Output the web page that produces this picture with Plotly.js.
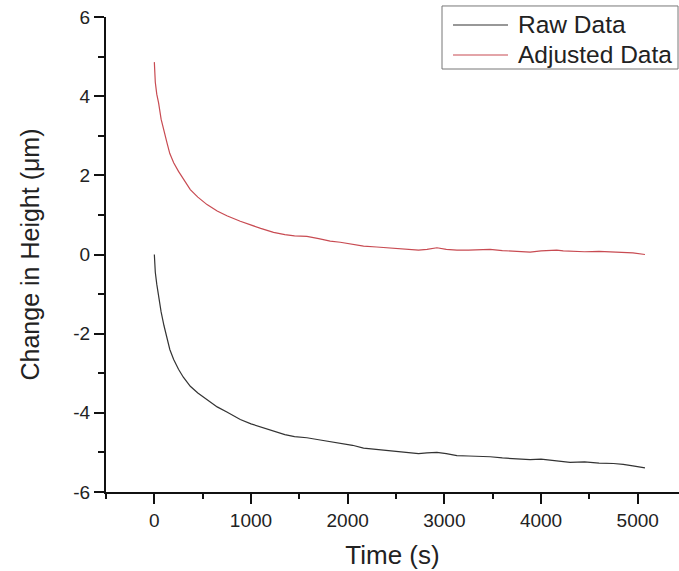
<!DOCTYPE html>
<html>
<head>
<meta charset="utf-8">
<script src="https://cdn.plot.ly/plotly-3.0.1.min.js"></script>
<style>html,body{margin:0;padding:0;background:#fff;}#chart{width:679px;height:571px;}</style>
</head>
<body>
<div id="chart"></div>
<script>
// Time points (s)
const timeS = [0, 10, 25, 44, 70, 100, 131, 160, 200, 250, 300, 372, 450, 545, 650, 750, 889, 1000, 1100, 1233, 1350, 1450, 1578, 1700, 1819, 1923, 2050, 2164, 2300, 2450, 2600, 2733, 2820, 2923, 3020, 3130, 3250, 3380, 3473, 3600, 3750, 3887, 4000, 4100, 4162, 4230, 4300, 4450, 4600, 4749, 4850, 4950, 5075];
// Raw Data (µm)
const rawData = [0, -0.45, -0.75, -1.05, -1.45, -1.8, -2.15, -2.4, -2.65, -2.9, -3.1, -3.33, -3.5, -3.67, -3.85, -3.98, -4.17, -4.28, -4.36, -4.47, -4.55, -4.6, -4.63, -4.68, -4.73, -4.76, -4.82, -4.89, -4.92, -4.96, -4.99, -5.03, -5.01, -5.0, -5.03, -5.08, -5.09, -5.1, -5.11, -5.14, -5.17, -5.18, -5.17, -5.2, -5.2, -5.23, -5.25, -5.24, -5.27, -5.28, -5.3, -5.34, -5.39];
// Adjusted Data (µm)
const adjustedData = [4.86, 4.35, 4.05, 3.83, 3.42, 3.1, 2.82, 2.55, 2.32, 2.1, 1.92, 1.64, 1.45, 1.26, 1.1, 0.98, 0.84, 0.74, 0.66, 0.56, 0.5, 0.47, 0.46, 0.4, 0.34, 0.31, 0.26, 0.21, 0.19, 0.16, 0.14, 0.11, 0.13, 0.17, 0.13, 0.11, 0.11, 0.12, 0.13, 0.1, 0.07, 0.06, 0.09, 0.1, 0.11, 0.09, 0.08, 0.07, 0.08, 0.06, 0.05, 0.04, 0.0];
const seriesNames = ["Raw Data", "Adjusted Data"];
const seriesColors = ["#333333", "#c84b52"];
const xTickVals = [0, 1000, 2000, 3000, 4000, 5000];
const yTickVals = [-6, -4, -2, 0, 2, 4, 6];

const FONT = "Liberation Sans, Arial, sans-serif";

const traces = [
  {x: timeS, y: rawData, name: seriesNames[0], type: "scatter", mode: "lines",
   line: {color: seriesColors[0], width: 1.2}, showlegend: false},
  {x: timeS, y: adjustedData, name: seriesNames[1], type: "scatter", mode: "lines",
   line: {color: seriesColors[1], width: 1.2}, showlegend: false}
];

// Legend drawn in paper coordinates (box, sample lines, labels)
const legBox = {x0: 0.5864, x1: 0.9983, y0: 0.8905, y1: 1.0232};
const legLineX = [0.6056, 0.7016];
const legRowY = [0.9832, 0.92];
const legTextX = 0.7155;

const shapes = [
  {type: "rect", xref: "paper", yref: "paper", x0: legBox.x0, x1: legBox.x1, y0: legBox.y0, y1: legBox.y1,
   line: {color: "#777", width: 1}, fillcolor: "#fff", layer: "above"}
];
const annotations = [];
seriesNames.forEach((nm, i) => {
  shapes.push({type: "line", xref: "paper", yref: "paper", x0: legLineX[0], x1: legLineX[1],
    y0: legRowY[i], y1: legRowY[i], line: {color: seriesColors[i], width: 1.2}, layer: "above"});
  annotations.push({xref: "paper", yref: "paper", x: legTextX, y: legRowY[i], xanchor: "left", yanchor: "middle",
    text: nm, showarrow: false, font: {family: FONT, size: 24.5, color: "#222"}});
});

const layout = {
  width: 679, height: 571,
  margin: {l: 106, r: 0, t: 17, b: 79},
  paper_bgcolor: "#fff", plot_bgcolor: "#fff",
  font: {family: FONT, color: "#222", size: 19},
  showlegend: false,
  shapes: shapes,
  annotations: annotations,
  xaxis: {
    range: [-500, 5427], autorange: false,
    tickvals: xTickVals, ticktext: xTickVals.map(String),
    ticks: "outside", ticklen: 10, tickwidth: 2, tickcolor: "#111",
    minor: {dtick: 500, tick0: -500, ticks: "outside", ticklen: 5, tickwidth: 2, tickcolor: "#111"},
    showline: true, linecolor: "#111", linewidth: 2,
    showgrid: false, zeroline: false,
    tickfont: {family: FONT, size: 19, color: "#222"},
    title: {text: "Time (s)", font: {family: FONT, size: 26, color: "#222"}, standoff: 16},
    automargin: false
  },
  yaxis: {
    range: [-6, 6], autorange: false,
    tickvals: yTickVals, ticktext: yTickVals.map(String),
    ticks: "outside", ticklen: 10, tickwidth: 2, tickcolor: "#111",
    minor: {dtick: 1, tick0: -6, ticks: "outside", ticklen: 6, tickwidth: 2, tickcolor: "#111"},
    showline: true, linecolor: "#111", linewidth: 2,
    showgrid: false, zeroline: false,
    tickfont: {family: FONT, size: 19, color: "#222"},
    title: {text: "Change in Height (μm)", font: {family: FONT, size: 25, color: "#222"}, standoff: 27},
    automargin: false
  }
};

Plotly.newPlot("chart", traces, layout, {displayModeBar: false, staticPlot: true});
</script>
</body>
</html>
